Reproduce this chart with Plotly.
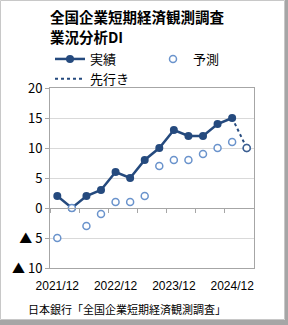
import plotly.graph_objects as go

quarters = ["2021/12", "2022/3", "2022/6", "2022/9", "2022/12", "2023/3", "2023/6",
            "2023/9", "2023/12", "2024/3", "2024/6", "2024/9", "2024/12", "2025/3"]
actual = [2, 0, 2, 3, 6, 5, 8, 10, 13, 12, 12, 14, 15, None]
forecast = [-5, 0, -3, -1, 1, 1, 2, 7, 8, 8, 9, 10, 11, 10]
outlook_x = ["2024/12", "2025/3"]
outlook_y = [15, 10]
x_tickvals = ["2021/12", "2022/12", "2023/12", "2024/12"]
y_tickvals = [-10, -5, 0, 5, 10, 15, 20]
y_ticktext = ["▲ 10", "▲ 5", "0", "5", "10", "15", "20"]
title_lines = ["全国企業短期経済観測調査", "業況分析DI"]
source_text = "日本銀行「全国企業短期経済観測調査」"

NAVY = "#254a7e"
LIGHT = "#6a93cc"
AXIS = "#a6a6a6"
GRID = "#d9d9d9"
FONT = "Liberation Sans, Arial, Noto Sans CJK JP, sans-serif"
CJK = "Noto Sans CJK JP, sans-serif"

W, H = 288, 325
L, R, T, B = 50, 34, 88, 57
pw, ph = W - L - R, H - T - B

def px(x):
    return (x - L) / pw

def py(y):
    return (H - B - y) / ph

fig = go.Figure()
fig.add_trace(go.Scatter(
    x=quarters, y=actual, name="実績", mode="lines+markers", legend="legend",
    line=dict(color=NAVY, width=2.5), marker=dict(color=NAVY, size=8),
))
fig.add_trace(go.Scatter(
    x=quarters, y=forecast, name="予測", mode="markers", legend="legend2",
    marker=dict(color="white", size=7, line=dict(color=LIGHT, width=1.5)),
))
fig.add_trace(go.Scatter(
    x=outlook_x, y=outlook_y, name="先行き", mode="lines", legend="legend",
    line=dict(color=NAVY, width=2, dash="dot"),
))
# re-draw the last forecast marker on top of the dotted line
fig.add_trace(go.Scatter(
    x=quarters[-1:], y=forecast[-1:], mode="markers", showlegend=False,
    marker=dict(color="white", size=7, line=dict(color="#3d5f90", width=1.5)),
))
# dummy trace for the zero-line axis
fig.add_trace(go.Scatter(
    x=quarters, y=[None] * len(quarters), xaxis="x2", showlegend=False,
    hoverinfo="skip", mode="lines",
))

legend_common = dict(
    orientation="v", xanchor="left", y=py(44), yanchor="top",
    font=dict(size=13, family=CJK, color="black"),
    bgcolor="rgba(0,0,0,0)", tracegroupgap=0,
)

title_annots = [
    dict(
        text="<b>" + line + "</b>",
        xref="paper", yref="paper", x=px(48), y=py(yc),
        xanchor="left", yanchor="middle", align="left", showarrow=False,
        font=dict(size=14.5, family=CJK, color="black"),
    )
    for line, yc in zip(title_lines, [16, 37])
]

fig.update_layout(
    width=W, height=H,
    margin=dict(l=L, r=R, t=T, b=B),
    paper_bgcolor="white", plot_bgcolor="white",
    font=dict(family=FONT, size=12, color="black"),
    legend=dict(x=px(50), **legend_common),
    legend2=dict(x=px(153), **legend_common),
    xaxis=dict(
        type="category", categoryorder="array", categoryarray=quarters,
        range=[-0.5, len(quarters) - 0.5],
        tickvals=x_tickvals, ticktext=x_tickvals, ticks="",
        showline=True, linecolor=AXIS, linewidth=1, mirror=True,
        showgrid=False, zeroline=False, ticklabelstandoff=7,
        tickfont=dict(size=12, color="black"),
    ),
    xaxis2=dict(
        type="category", categoryorder="array", categoryarray=quarters,
        range=[-0.5, len(quarters) - 0.5],
        overlaying="x", anchor="free", position=(0 - (-10)) / 30,
        showline=True, linecolor=AXIS, linewidth=1,
        ticks="outside", ticklen=4, tickcolor=AXIS, tickson="boundaries",
        showticklabels=False, showgrid=False, zeroline=False,
    ),
    yaxis=dict(
        range=[-10, 20], tickvals=y_tickvals, ticktext=y_ticktext,
        showline=True, linecolor=AXIS, linewidth=1, mirror=True,
        ticks="outside", ticklen=4, tickcolor=AXIS,
        gridcolor=GRID, gridwidth=1, zeroline=False,
        tickfont=dict(size=13, family=CJK, color="black"),
    ),
    annotations=title_annots + [
        dict(
            text=source_text,
            xref="paper", yref="paper", x=px(26), y=py(309),
            xanchor="left", yanchor="middle", showarrow=False,
            font=dict(size=11, family=CJK, color="black"),
        ),
    ],
    shapes=[
        dict(type="rect", xref="paper", yref="paper",
             x0=px(0.5), x1=px(284.5), y0=py(0.5), y1=py(319.5),
             line=dict(color="#c8c8c8", width=1), layer="below"),
        dict(type="rect", xref="paper", yref="paper",
             x0=px(285), x1=px(288), y0=py(0), y1=py(325),
             fillcolor="#a6a6a6", line=dict(width=0)),
        dict(type="rect", xref="paper", yref="paper",
             x0=px(0), x1=px(288), y0=py(320), y1=py(325),
             fillcolor="#a6a6a6", line=dict(width=0)),
    ],
    showlegend=True,
)

fig.write_html("out.html")
